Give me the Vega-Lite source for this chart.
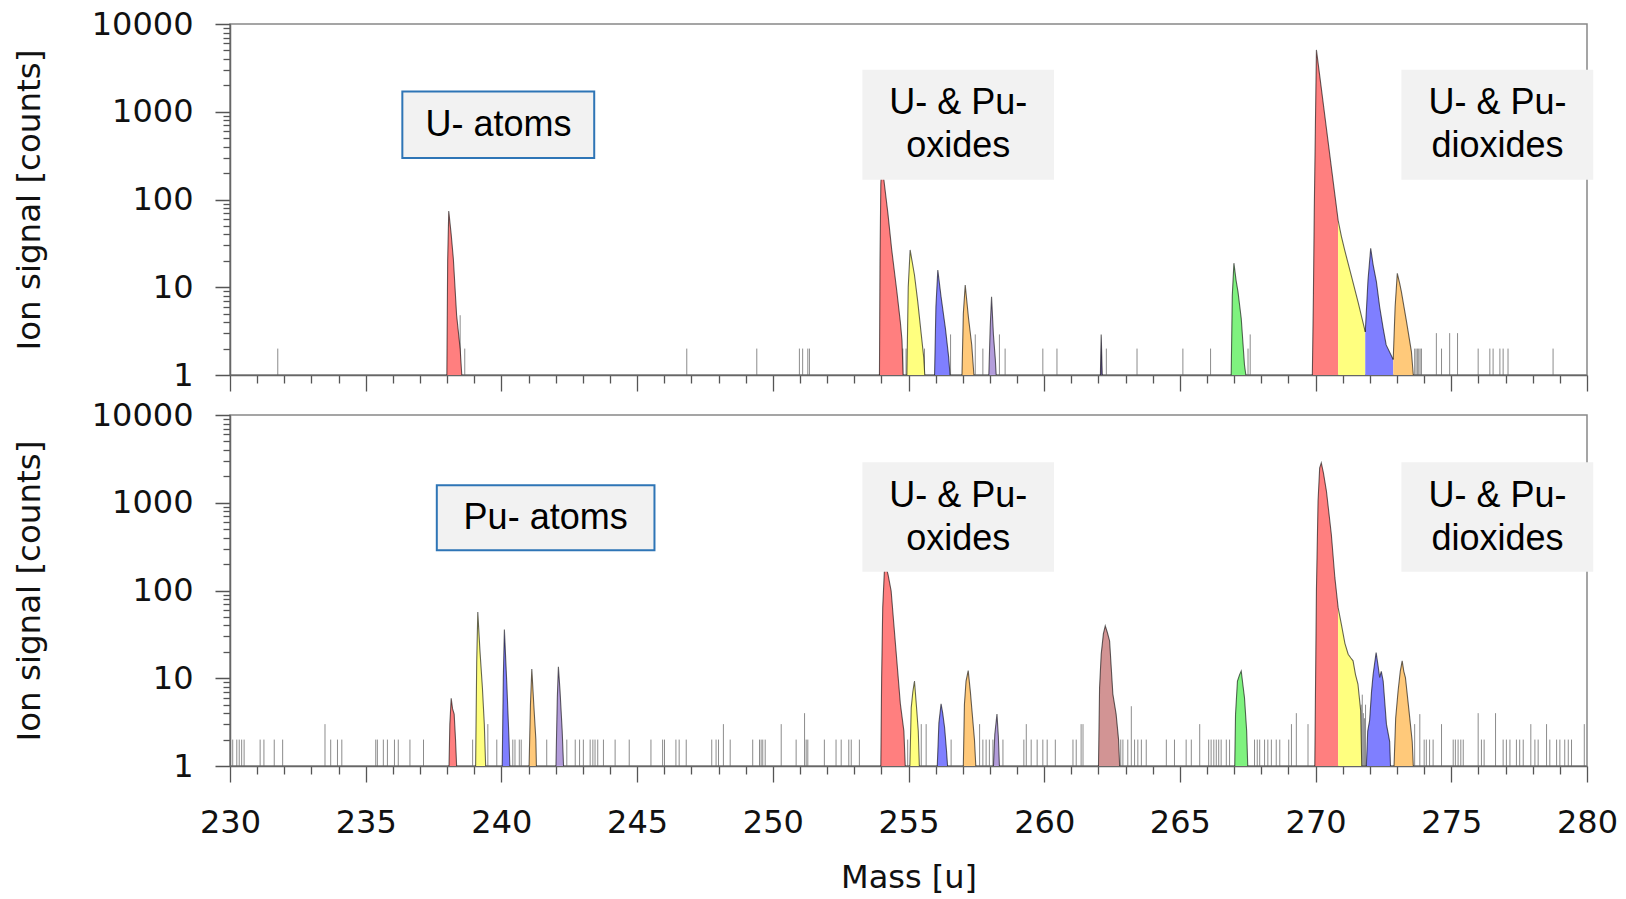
{
"$schema": "https://vega.github.io/schema/vega-lite/v6.json",
"background": "white",
"padding": {"left": 12, "top": 7, "right": 5, "bottom": 0},
"config": {
  "view": {"stroke": "#888888", "strokeWidth": 1.5},
  "axis": {"labelFont": "DejaVu Sans", "titleFont": "DejaVu Sans", "labelFontSize": 32, "titleFontSize": 32.5, "titleFontWeight": "normal", "labelColor": "#111111", "titleColor": "#111111", "tickColor": "#555555", "domainColor": "#666666", "domainWidth": 1.5, "tickWidth": 1.3, "grid": false}
},
"datasets": {
"peaks": [
{"panel":"U","peak":"u238","iso":"U-238","mass":237.99,"count":1},{"panel":"U","peak":"u238","iso":"U-238","mass":238.02,"count":20},{"panel":"U","peak":"u238","iso":"U-238","mass":238.06,"count":74},{"panel":"U","peak":"u238","iso":"U-238","mass":238.15,"count":40},{"panel":"U","peak":"u238","iso":"U-238","mass":238.23,"count":21},{"panel":"U","peak":"u238","iso":"U-238","mass":238.35,"count":4.8},{"panel":"U","peak":"u238","iso":"U-238","mass":238.48,"count":2},{"panel":"U","peak":"u238","iso":"U-238","mass":238.54,"count":1},
{"panel":"U","peak":"u254","iso":"U-238","mass":253.93,"count":1},{"panel":"U","peak":"u254","iso":"U-238","mass":253.95,"count":20},{"panel":"U","peak":"u254","iso":"U-238","mass":253.98,"count":150},{"panel":"U","peak":"u254","iso":"U-238","mass":254.03,"count":300},{"panel":"U","peak":"u254","iso":"U-238","mass":254.09,"count":170},{"panel":"U","peak":"u254","iso":"U-238","mass":254.24,"count":70},{"panel":"U","peak":"u254","iso":"U-238","mass":254.38,"count":27},{"panel":"U","peak":"u254","iso":"U-238","mass":254.57,"count":9},{"panel":"U","peak":"u254","iso":"U-238","mass":254.7,"count":4},{"panel":"U","peak":"u254","iso":"U-238","mass":254.76,"count":2.5},{"panel":"U","peak":"u254","iso":"U-238","mass":254.8,"count":1},
{"panel":"U","peak":"u255","iso":"Pu-239","mass":254.94,"count":1},{"panel":"U","peak":"u255","iso":"Pu-239","mass":254.99,"count":10},{"panel":"U","peak":"u255","iso":"Pu-239","mass":255.06,"count":26.6},{"panel":"U","peak":"u255","iso":"Pu-239","mass":255.13,"count":20},{"panel":"U","peak":"u255","iso":"Pu-239","mass":255.22,"count":13.8},{"panel":"U","peak":"u255","iso":"Pu-239","mass":255.34,"count":6.9},{"panel":"U","peak":"u255","iso":"Pu-239","mass":255.47,"count":2.9},{"panel":"U","peak":"u255","iso":"Pu-239","mass":255.56,"count":1.6},{"panel":"U","peak":"u255","iso":"Pu-239","mass":255.6,"count":1},
{"panel":"U","peak":"u256","iso":"Pu-240","mass":255.96,"count":1},{"panel":"U","peak":"u256","iso":"Pu-240","mass":256.01,"count":6},{"panel":"U","peak":"u256","iso":"Pu-240","mass":256.08,"count":15.7},{"panel":"U","peak":"u256","iso":"Pu-240","mass":256.2,"count":7.8},{"panel":"U","peak":"u256","iso":"Pu-240","mass":256.36,"count":3.4},{"panel":"U","peak":"u256","iso":"Pu-240","mass":256.48,"count":1.6},{"panel":"U","peak":"u256","iso":"Pu-240","mass":256.53,"count":1},
{"panel":"U","peak":"u257","iso":"Pu-241","mass":256.97,"count":1},{"panel":"U","peak":"u257","iso":"Pu-241","mass":257.02,"count":5},{"panel":"U","peak":"u257","iso":"Pu-241","mass":257.09,"count":10.6},{"panel":"U","peak":"u257","iso":"Pu-241","mass":257.21,"count":4.5},{"panel":"U","peak":"u257","iso":"Pu-241","mass":257.33,"count":2.2},{"panel":"U","peak":"u257","iso":"Pu-241","mass":257.41,"count":1},
{"panel":"U","peak":"u258","iso":"Pu-242","mass":257.96,"count":1},{"panel":"U","peak":"u258","iso":"Pu-242","mass":258.01,"count":3.5},{"panel":"U","peak":"u258","iso":"Pu-242","mass":258.06,"count":7.8},{"panel":"U","peak":"u258","iso":"Pu-242","mass":258.13,"count":2.85},{"panel":"U","peak":"u258","iso":"Pu-242","mass":258.2,"count":1.5},{"panel":"U","peak":"u258","iso":"Pu-242","mass":258.23,"count":1},
{"panel":"U","peak":"u262","iso":"m262a","mass":262.07,"count":1},{"panel":"U","peak":"u262","iso":"m262a","mass":262.1,"count":2.9},{"panel":"U","peak":"u262","iso":"m262a","mass":262.14,"count":1},
{"panel":"U","peak":"u267","iso":"U-235","mass":266.89,"count":1},{"panel":"U","peak":"u267","iso":"U-235","mass":266.93,"count":8},{"panel":"U","peak":"u267","iso":"U-235","mass":266.99,"count":18.8},{"panel":"U","peak":"u267","iso":"U-235","mass":267.07,"count":12},{"panel":"U","peak":"u267","iso":"U-235","mass":267.14,"count":8.9},{"panel":"U","peak":"u267","iso":"U-235","mass":267.26,"count":4.4},{"panel":"U","peak":"u267","iso":"U-235","mass":267.38,"count":1.3},{"panel":"U","peak":"u267","iso":"U-235","mass":267.43,"count":1},
{"panel":"U","peak":"u270","iso":"U-238","mass":269.88,"count":1},{"panel":"U","peak":"u270","iso":"U-238","mass":269.92,"count":8.5},{"panel":"U","peak":"u270","iso":"U-238","mass":269.95,"count":71},{"panel":"U","peak":"u270","iso":"U-238","mass":269.99,"count":600},{"panel":"U","peak":"u270","iso":"U-238","mass":270.03,"count":5070},{"panel":"U","peak":"u270","iso":"U-238","mass":270.15,"count":2600},{"panel":"U","peak":"u270","iso":"U-238","mass":270.3,"count":1120},{"panel":"U","peak":"u270","iso":"U-238","mass":270.45,"count":484},{"panel":"U","peak":"u270","iso":"U-238","mass":270.6,"count":209},{"panel":"U","peak":"u270","iso":"U-238","mass":270.72,"count":107},{"panel":"U","peak":"u270","iso":"U-238","mass":270.83,"count":58},
{"panel":"U","peak":"u271","iso":"Pu-239","mass":270.83,"count":58},{"panel":"U","peak":"u271","iso":"Pu-239","mass":270.95,"count":38},{"panel":"U","peak":"u271","iso":"Pu-239","mass":271.07,"count":26.6},{"panel":"U","peak":"u271","iso":"Pu-239","mass":271.32,"count":13.4},{"panel":"U","peak":"u271","iso":"Pu-239","mass":271.57,"count":6.7},{"panel":"U","peak":"u271","iso":"Pu-239","mass":271.83,"count":3.1},
{"panel":"U","peak":"u272","iso":"Pu-240","mass":271.83,"count":3.1},{"panel":"U","peak":"u272","iso":"Pu-240","mass":271.93,"count":12},{"panel":"U","peak":"u272","iso":"Pu-240","mass":272.03,"count":27.8},{"panel":"U","peak":"u272","iso":"Pu-240","mass":272.12,"count":18},{"panel":"U","peak":"u272","iso":"Pu-240","mass":272.24,"count":11.6},{"panel":"U","peak":"u272","iso":"Pu-240","mass":272.36,"count":6},{"panel":"U","peak":"u272","iso":"Pu-240","mass":272.49,"count":3.4},{"panel":"U","peak":"u272","iso":"Pu-240","mass":272.6,"count":2.2},{"panel":"U","peak":"u272","iso":"Pu-240","mass":272.86,"count":1.5},
{"panel":"U","peak":"u273","iso":"Pu-241","mass":272.86,"count":1.5},{"panel":"U","peak":"u273","iso":"Pu-241","mass":272.93,"count":6},{"panel":"U","peak":"u273","iso":"Pu-241","mass":273.01,"count":14.4},{"panel":"U","peak":"u273","iso":"Pu-241","mass":273.1,"count":11},{"panel":"U","peak":"u273","iso":"Pu-241","mass":273.16,"count":8.9},{"panel":"U","peak":"u273","iso":"Pu-241","mass":273.35,"count":4.06},{"panel":"U","peak":"u273","iso":"Pu-241","mass":273.53,"count":1.85},{"panel":"U","peak":"u273","iso":"Pu-241","mass":273.6,"count":1},
{"panel":"Pu","peak":"p238","iso":"U-238","mass":238.07,"count":1},{"panel":"Pu","peak":"p238","iso":"U-238","mass":238.1,"count":3},{"panel":"Pu","peak":"p238","iso":"U-238","mass":238.15,"count":5.9},{"panel":"Pu","peak":"p238","iso":"U-238","mass":238.2,"count":4.5},{"panel":"Pu","peak":"p238","iso":"U-238","mass":238.26,"count":3.9},{"panel":"Pu","peak":"p238","iso":"U-238","mass":238.31,"count":2},{"panel":"Pu","peak":"p238","iso":"U-238","mass":238.35,"count":1},
{"panel":"Pu","peak":"p239","iso":"Pu-239","mass":239.05,"count":1},{"panel":"Pu","peak":"p239","iso":"Pu-239","mass":239.09,"count":15},{"panel":"Pu","peak":"p239","iso":"Pu-239","mass":239.13,"count":57},{"panel":"Pu","peak":"p239","iso":"Pu-239","mass":239.21,"count":20.5},{"panel":"Pu","peak":"p239","iso":"Pu-239","mass":239.3,"count":7.8},{"panel":"Pu","peak":"p239","iso":"Pu-239","mass":239.37,"count":3},{"panel":"Pu","peak":"p239","iso":"Pu-239","mass":239.42,"count":1},
{"panel":"Pu","peak":"p240","iso":"Pu-240","mass":240.03,"count":1},{"panel":"Pu","peak":"p240","iso":"Pu-240","mass":240.07,"count":10},{"panel":"Pu","peak":"p240","iso":"Pu-240","mass":240.11,"count":36},{"panel":"Pu","peak":"p240","iso":"Pu-240","mass":240.2,"count":8.6},{"panel":"Pu","peak":"p240","iso":"Pu-240","mass":240.28,"count":2},{"panel":"Pu","peak":"p240","iso":"Pu-240","mass":240.31,"count":1},
{"panel":"Pu","peak":"p241","iso":"Pu-241","mass":241.02,"count":1},{"panel":"Pu","peak":"p241","iso":"Pu-241","mass":241.07,"count":5},{"panel":"Pu","peak":"p241","iso":"Pu-241","mass":241.12,"count":12.7},{"panel":"Pu","peak":"p241","iso":"Pu-241","mass":241.2,"count":4.6},{"panel":"Pu","peak":"p241","iso":"Pu-241","mass":241.27,"count":2},{"panel":"Pu","peak":"p241","iso":"Pu-241","mass":241.29,"count":1},
{"panel":"Pu","peak":"p242","iso":"Pu-242","mass":242.01,"count":1},{"panel":"Pu","peak":"p242","iso":"Pu-242","mass":242.06,"count":6},{"panel":"Pu","peak":"p242","iso":"Pu-242","mass":242.1,"count":13.5},{"panel":"Pu","peak":"p242","iso":"Pu-242","mass":242.16,"count":7.2},{"panel":"Pu","peak":"p242","iso":"Pu-242","mass":242.24,"count":2.5},{"panel":"Pu","peak":"p242","iso":"Pu-242","mass":242.29,"count":1},
{"panel":"Pu","peak":"p254","iso":"U-238","mass":253.98,"count":1},{"panel":"Pu","peak":"p254","iso":"U-238","mass":254.01,"count":10},{"panel":"Pu","peak":"p254","iso":"U-238","mass":254.05,"count":64},{"panel":"Pu","peak":"p254","iso":"U-238","mass":254.11,"count":164},{"panel":"Pu","peak":"p254","iso":"U-238","mass":254.17,"count":190},{"panel":"Pu","peak":"p254","iso":"U-238","mass":254.25,"count":150},{"panel":"Pu","peak":"p254","iso":"U-238","mass":254.36,"count":99},{"panel":"Pu","peak":"p254","iso":"U-238","mass":254.45,"count":45},{"panel":"Pu","peak":"p254","iso":"U-238","mass":254.54,"count":20.5},{"panel":"Pu","peak":"p254","iso":"U-238","mass":254.7,"count":5.1},{"panel":"Pu","peak":"p254","iso":"U-238","mass":254.83,"count":2.5},{"panel":"Pu","peak":"p254","iso":"U-238","mass":254.88,"count":1},
{"panel":"Pu","peak":"p255","iso":"Pu-239","mass":255.05,"count":1},{"panel":"Pu","peak":"p255","iso":"Pu-239","mass":255.1,"count":4.6},{"panel":"Pu","peak":"p255","iso":"Pu-239","mass":255.16,"count":7},{"panel":"Pu","peak":"p255","iso":"Pu-239","mass":255.22,"count":9.3},{"panel":"Pu","peak":"p255","iso":"Pu-239","mass":255.3,"count":4.5},{"panel":"Pu","peak":"p255","iso":"Pu-239","mass":255.36,"count":2.5},{"panel":"Pu","peak":"p255","iso":"Pu-239","mass":255.4,"count":1},
{"panel":"Pu","peak":"p256","iso":"Pu-240","mass":256.06,"count":1},{"panel":"Pu","peak":"p256","iso":"Pu-240","mass":256.12,"count":3.1},{"panel":"Pu","peak":"p256","iso":"Pu-240","mass":256.2,"count":5.1},{"panel":"Pu","peak":"p256","iso":"Pu-240","mass":256.26,"count":4},{"panel":"Pu","peak":"p256","iso":"Pu-240","mass":256.33,"count":2.75},{"panel":"Pu","peak":"p256","iso":"Pu-240","mass":256.4,"count":1.5},{"panel":"Pu","peak":"p256","iso":"Pu-240","mass":256.44,"count":1},
{"panel":"Pu","peak":"p257","iso":"Pu-241","mass":257.02,"count":1},{"panel":"Pu","peak":"p257","iso":"Pu-241","mass":257.06,"count":5},{"panel":"Pu","peak":"p257","iso":"Pu-241","mass":257.12,"count":9.3},{"panel":"Pu","peak":"p257","iso":"Pu-241","mass":257.2,"count":12.2},{"panel":"Pu","peak":"p257","iso":"Pu-241","mass":257.28,"count":7},{"panel":"Pu","peak":"p257","iso":"Pu-241","mass":257.33,"count":4.6},{"panel":"Pu","peak":"p257","iso":"Pu-241","mass":257.43,"count":2},{"panel":"Pu","peak":"p257","iso":"Pu-241","mass":257.48,"count":1},
{"panel":"Pu","peak":"p258","iso":"Pu-242","mass":258.13,"count":1},{"panel":"Pu","peak":"p258","iso":"Pu-242","mass":258.18,"count":2.3},{"panel":"Pu","peak":"p258","iso":"Pu-242","mass":258.26,"count":3.9},{"panel":"Pu","peak":"p258","iso":"Pu-242","mass":258.31,"count":2.2},{"panel":"Pu","peak":"p258","iso":"Pu-242","mass":258.35,"count":1},
{"panel":"Pu","peak":"p262","iso":"m262b","mass":262.0,"count":1},{"panel":"Pu","peak":"p262","iso":"m262b","mass":262.04,"count":7.8},{"panel":"Pu","peak":"p262","iso":"m262b","mass":262.1,"count":18.8},{"panel":"Pu","peak":"p262","iso":"m262b","mass":262.18,"count":32},{"panel":"Pu","peak":"p262","iso":"m262b","mass":262.25,"count":39.5},{"panel":"Pu","peak":"p262","iso":"m262b","mass":262.33,"count":33},{"panel":"Pu","peak":"p262","iso":"m262b","mass":262.41,"count":26.6},{"panel":"Pu","peak":"p262","iso":"m262b","mass":262.53,"count":6.6},{"panel":"Pu","peak":"p262","iso":"m262b","mass":262.65,"count":3.9},{"panel":"Pu","peak":"p262","iso":"m262b","mass":262.74,"count":2},{"panel":"Pu","peak":"p262","iso":"m262b","mass":262.78,"count":1},
{"panel":"Pu","peak":"p267","iso":"U-235","mass":267.02,"count":1},{"panel":"Pu","peak":"p267","iso":"U-235","mass":267.05,"count":3.9},{"panel":"Pu","peak":"p267","iso":"U-235","mass":267.12,"count":9.3},{"panel":"Pu","peak":"p267","iso":"U-235","mass":267.2,"count":11},{"panel":"Pu","peak":"p267","iso":"U-235","mass":267.26,"count":12.1},{"panel":"Pu","peak":"p267","iso":"U-235","mass":267.33,"count":8},{"panel":"Pu","peak":"p267","iso":"U-235","mass":267.38,"count":6},{"panel":"Pu","peak":"p267","iso":"U-235","mass":267.46,"count":2.5},{"panel":"Pu","peak":"p267","iso":"U-235","mass":267.5,"count":1},
{"panel":"Pu","peak":"p270","iso":"U-238","mass":269.97,"count":1},{"panel":"Pu","peak":"p270","iso":"U-238","mass":270.0,"count":10},{"panel":"Pu","peak":"p270","iso":"U-238","mass":270.03,"count":98},{"panel":"Pu","peak":"p270","iso":"U-238","mass":270.09,"count":1042},{"panel":"Pu","peak":"p270","iso":"U-238","mass":270.15,"count":2495},{"panel":"Pu","peak":"p270","iso":"U-238","mass":270.21,"count":2846},{"panel":"Pu","peak":"p270","iso":"U-238","mass":270.29,"count":2180},{"panel":"Pu","peak":"p270","iso":"U-238","mass":270.4,"count":1350},{"panel":"Pu","peak":"p270","iso":"U-238","mass":270.58,"count":435},{"panel":"Pu","peak":"p270","iso":"U-238","mass":270.71,"count":140},{"panel":"Pu","peak":"p270","iso":"U-238","mass":270.83,"count":64},
{"panel":"Pu","peak":"p271","iso":"Pu-239","mass":270.83,"count":64},{"panel":"Pu","peak":"p271","iso":"Pu-239","mass":270.95,"count":41},{"panel":"Pu","peak":"p271","iso":"Pu-239","mass":271.08,"count":25},{"panel":"Pu","peak":"p271","iso":"Pu-239","mass":271.2,"count":18.8},{"panel":"Pu","peak":"p271","iso":"Pu-239","mass":271.3,"count":17},{"panel":"Pu","peak":"p271","iso":"Pu-239","mass":271.38,"count":15.8},{"panel":"Pu","peak":"p271","iso":"Pu-239","mass":271.47,"count":11},{"panel":"Pu","peak":"p271","iso":"Pu-239","mass":271.56,"count":8.6},{"panel":"Pu","peak":"p271","iso":"Pu-239","mass":271.66,"count":4.3},{"panel":"Pu","peak":"p271","iso":"Pu-239","mass":271.7,"count":1},
{"panel":"Pu","peak":"p272","iso":"Pu-240","mass":271.87,"count":1},{"panel":"Pu","peak":"p272","iso":"Pu-240","mass":271.92,"count":2.5},{"panel":"Pu","peak":"p272","iso":"Pu-240","mass":271.99,"count":3.3},{"panel":"Pu","peak":"p272","iso":"Pu-240","mass":272.06,"count":7},{"panel":"Pu","peak":"p272","iso":"Pu-240","mass":272.12,"count":11.1},{"panel":"Pu","peak":"p272","iso":"Pu-240","mass":272.23,"count":19.6},{"panel":"Pu","peak":"p272","iso":"Pu-240","mass":272.3,"count":14},{"panel":"Pu","peak":"p272","iso":"Pu-240","mass":272.36,"count":10.2},{"panel":"Pu","peak":"p272","iso":"Pu-240","mass":272.42,"count":12},{"panel":"Pu","peak":"p272","iso":"Pu-240","mass":272.49,"count":9.3},{"panel":"Pu","peak":"p272","iso":"Pu-240","mass":272.61,"count":3.0},{"panel":"Pu","peak":"p272","iso":"Pu-240","mass":272.73,"count":1.9},{"panel":"Pu","peak":"p272","iso":"Pu-240","mass":272.76,"count":1},
{"panel":"Pu","peak":"p273","iso":"Pu-241","mass":272.89,"count":1},{"panel":"Pu","peak":"p273","iso":"Pu-241","mass":272.95,"count":3.5},{"panel":"Pu","peak":"p273","iso":"Pu-241","mass":273.04,"count":7.2},{"panel":"Pu","peak":"p273","iso":"Pu-241","mass":273.12,"count":12},{"panel":"Pu","peak":"p273","iso":"Pu-241","mass":273.19,"count":15.8},{"panel":"Pu","peak":"p273","iso":"Pu-241","mass":273.25,"count":12},{"panel":"Pu","peak":"p273","iso":"Pu-241","mass":273.31,"count":10.2},{"panel":"Pu","peak":"p273","iso":"Pu-241","mass":273.43,"count":4.6},{"panel":"Pu","peak":"p273","iso":"Pu-241","mass":273.56,"count":1.9},{"panel":"Pu","peak":"p273","iso":"Pu-241","mass":273.6,"count":1}
],
"noise": [
{"panel":"U","mass":231.76,"count":2},{"panel":"U","mass":238.48,"count":4.8},{"panel":"U","mass":238.65,"count":2},{"panel":"U","mass":246.83,"count":2},{"panel":"U","mass":249.41,"count":2},{"panel":"U","mass":250.98,"count":2},{"panel":"U","mass":251.1,"count":2},{"panel":"U","mass":251.29,"count":2},{"panel":"U","mass":251.35,"count":2},{"panel":"U","mass":254.79,"count":2},{"panel":"U","mass":254.91,"count":2},{"panel":"U","mass":255.59,"count":2},{"panel":"U","mass":256.55,"count":2.9},{"panel":"U","mass":257.46,"count":2.9},{"panel":"U","mass":257.74,"count":2},{"panel":"U","mass":258.35,"count":2.9},{"panel":"U","mass":258.56,"count":2},{"panel":"U","mass":259.95,"count":2},{"panel":"U","mass":260.47,"count":2},{"panel":"U","mass":262.29,"count":2},{"panel":"U","mass":263.42,"count":2},{"panel":"U","mass":265.11,"count":2},{"panel":"U","mass":266.13,"count":2},{"panel":"U","mass":267.51,"count":2},{"panel":"U","mass":267.59,"count":2.9},{"panel":"U","mass":273.65,"count":2},{"panel":"U","mass":273.7,"count":2},{"panel":"U","mass":273.75,"count":2},{"panel":"U","mass":273.8,"count":2},{"panel":"U","mass":273.85,"count":2},{"panel":"U","mass":273.9,"count":2},{"panel":"U","mass":274.45,"count":3},{"panel":"U","mass":274.64,"count":2},{"panel":"U","mass":274.94,"count":3},{"panel":"U","mass":275.23,"count":3},{"panel":"U","mass":275.99,"count":2},{"panel":"U","mass":276.42,"count":2},{"panel":"U","mass":276.54,"count":2},{"panel":"U","mass":276.79,"count":2},{"panel":"U","mass":276.91,"count":2},{"panel":"U","mass":277.09,"count":2},{"panel":"U","mass":278.75,"count":2},
{"panel":"Pu","mass":230.1,"count":2},{"panel":"Pu","mass":230.25,"count":2},{"panel":"Pu","mass":230.34,"count":2},{"panel":"Pu","mass":230.43,"count":2},{"panel":"Pu","mass":230.52,"count":2},{"panel":"Pu","mass":231.11,"count":2},{"panel":"Pu","mass":231.25,"count":2},{"panel":"Pu","mass":231.63,"count":2},{"panel":"Pu","mass":231.94,"count":2},{"panel":"Pu","mass":233.5,"count":3},{"panel":"Pu","mass":233.71,"count":2},{"panel":"Pu","mass":233.96,"count":2},{"panel":"Pu","mass":234.12,"count":2},{"panel":"Pu","mass":235.37,"count":2},{"panel":"Pu","mass":235.43,"count":2},{"panel":"Pu","mass":235.65,"count":2},{"panel":"Pu","mass":235.8,"count":2},{"panel":"Pu","mass":236.06,"count":2},{"panel":"Pu","mass":236.2,"count":2},{"panel":"Pu","mass":236.63,"count":2},{"panel":"Pu","mass":237.13,"count":2},{"panel":"Pu","mass":238.94,"count":2},{"panel":"Pu","mass":239.5,"count":3},{"panel":"Pu","mass":239.83,"count":2},{"panel":"Pu","mass":240.42,"count":2},{"panel":"Pu","mass":240.5,"count":2},{"panel":"Pu","mass":240.66,"count":2},{"panel":"Pu","mass":240.73,"count":2},{"panel":"Pu","mass":241.67,"count":2},{"panel":"Pu","mass":242.41,"count":2},{"panel":"Pu","mass":242.72,"count":2},{"panel":"Pu","mass":242.88,"count":2},{"panel":"Pu","mass":243.02,"count":2},{"panel":"Pu","mass":243.27,"count":2},{"panel":"Pu","mass":243.37,"count":2},{"panel":"Pu","mass":243.45,"count":2},{"panel":"Pu","mass":243.55,"count":2},{"panel":"Pu","mass":243.76,"count":2},{"panel":"Pu","mass":244.19,"count":2},{"panel":"Pu","mass":244.71,"count":2},{"panel":"Pu","mass":245.51,"count":2},{"panel":"Pu","mass":245.94,"count":2},{"panel":"Pu","mass":246.01,"count":2},{"panel":"Pu","mass":246.43,"count":2},{"panel":"Pu","mass":246.55,"count":2},{"panel":"Pu","mass":246.81,"count":2},{"panel":"Pu","mass":247.75,"count":2},{"panel":"Pu","mass":247.91,"count":2},{"panel":"Pu","mass":248.0,"count":2},{"panel":"Pu","mass":248.18,"count":3},{"panel":"Pu","mass":248.43,"count":2},
{"panel":"Pu","mass":249.26,"count":2},{"panel":"Pu","mass":249.51,"count":2},{"panel":"Pu","mass":249.57,"count":2},{"panel":"Pu","mass":249.63,"count":2},{"panel":"Pu","mass":249.72,"count":2},{"panel":"Pu","mass":250.31,"count":3},{"panel":"Pu","mass":250.86,"count":2},{"panel":"Pu","mass":251.17,"count":4},{"panel":"Pu","mass":251.23,"count":2},{"panel":"Pu","mass":251.29,"count":2},{"panel":"Pu","mass":251.9,"count":2},{"panel":"Pu","mass":252.33,"count":2},{"panel":"Pu","mass":252.52,"count":2},{"panel":"Pu","mass":252.8,"count":2},{"panel":"Pu","mass":252.89,"count":2},{"panel":"Pu","mass":253.19,"count":2},{"panel":"Pu","mass":254.97,"count":2},{"panel":"Pu","mass":255.47,"count":3},{"panel":"Pu","mass":255.65,"count":3},{"panel":"Pu","mass":256.57,"count":2},{"panel":"Pu","mass":257.62,"count":3},{"panel":"Pu","mass":257.74,"count":2},{"panel":"Pu","mass":257.86,"count":2},{"panel":"Pu","mass":257.98,"count":2},{"panel":"Pu","mass":258.11,"count":2},{"panel":"Pu","mass":258.48,"count":2},{"panel":"Pu","mass":259.25,"count":2},{"panel":"Pu","mass":259.34,"count":3},{"panel":"Pu","mass":259.52,"count":2},{"panel":"Pu","mass":259.74,"count":2},{"panel":"Pu","mass":259.95,"count":2},{"panel":"Pu","mass":260.11,"count":2},{"panel":"Pu","mass":260.41,"count":2},{"panel":"Pu","mass":261.06,"count":2},{"panel":"Pu","mass":261.18,"count":2},{"panel":"Pu","mass":261.36,"count":3},{"panel":"Pu","mass":261.43,"count":3},{"panel":"Pu","mass":262.82,"count":2},{"panel":"Pu","mass":262.9,"count":2},{"panel":"Pu","mass":263.08,"count":2},{"panel":"Pu","mass":263.21,"count":4.8},{"panel":"Pu","mass":263.33,"count":2},{"panel":"Pu","mass":263.45,"count":2},{"panel":"Pu","mass":263.58,"count":2},{"panel":"Pu","mass":263.76,"count":2},{"panel":"Pu","mass":264.5,"count":2},{"panel":"Pu","mass":264.8,"count":2},{"panel":"Pu","mass":265.23,"count":2},{"panel":"Pu","mass":265.42,"count":2},{"panel":"Pu","mass":265.73,"count":3},{"panel":"Pu","mass":266.06,"count":2},{"panel":"Pu","mass":266.15,"count":2},{"panel":"Pu","mass":266.25,"count":2},{"panel":"Pu","mass":266.34,"count":2},{"panel":"Pu","mass":266.43,"count":2},{"panel":"Pu","mass":266.52,"count":2},{"panel":"Pu","mass":266.71,"count":2},{"panel":"Pu","mass":266.83,"count":2},{"panel":"Pu","mass":267.75,"count":2},{"panel":"Pu","mass":267.85,"count":2},{"panel":"Pu","mass":267.94,"count":2},{"panel":"Pu","mass":268.12,"count":2},{"panel":"Pu","mass":268.24,"count":2},{"panel":"Pu","mass":268.37,"count":2},{"panel":"Pu","mass":268.55,"count":2},{"panel":"Pu","mass":268.68,"count":2},{"panel":"Pu","mass":269.01,"count":2},{"panel":"Pu","mass":269.11,"count":3},{"panel":"Pu","mass":269.29,"count":4},{"panel":"Pu","mass":269.72,"count":3},{"panel":"Pu","mass":271.68,"count":5},{"panel":"Pu","mass":271.72,"count":6.5},{"panel":"Pu","mass":271.76,"count":4},{"panel":"Pu","mass":271.8,"count":3.5},{"panel":"Pu","mass":271.84,"count":5},{"panel":"Pu","mass":273.65,"count":3},{"panel":"Pu","mass":273.84,"count":3.9},{"panel":"Pu","mass":274.0,"count":2},{"panel":"Pu","mass":274.08,"count":2},{"panel":"Pu","mass":274.2,"count":2},{"panel":"Pu","mass":274.33,"count":2},{"panel":"Pu","mass":274.64,"count":3},{"panel":"Pu","mass":275.07,"count":2},{"panel":"Pu","mass":275.15,"count":2},{"panel":"Pu","mass":275.25,"count":2},{"panel":"Pu","mass":275.35,"count":2},{"panel":"Pu","mass":275.44,"count":2},{"panel":"Pu","mass":275.99,"count":4},{"panel":"Pu","mass":276.11,"count":2},{"panel":"Pu","mass":276.21,"count":2},{"panel":"Pu","mass":276.63,"count":4},{"panel":"Pu","mass":276.91,"count":2},{"panel":"Pu","mass":277.03,"count":2},{"panel":"Pu","mass":277.16,"count":2},{"panel":"Pu","mass":277.4,"count":2},{"panel":"Pu","mass":277.52,"count":2},{"panel":"Pu","mass":277.65,"count":2},{"panel":"Pu","mass":277.93,"count":3},{"panel":"Pu","mass":278.08,"count":2},{"panel":"Pu","mass":278.2,"count":2},{"panel":"Pu","mass":278.51,"count":3},{"panel":"Pu","mass":278.63,"count":2},{"panel":"Pu","mass":278.88,"count":2},{"panel":"Pu","mass":279.0,"count":2},{"panel":"Pu","mass":279.18,"count":2},{"panel":"Pu","mass":279.31,"count":2},{"panel":"Pu","mass":279.43,"count":2},{"panel":"Pu","mass":279.9,"count":3}
],
"boxes": [
{"panel":"U","kind":"atoms","mass":236.35,"mass2":243.42,"count":297,"count2":1700},
{"panel":"U","kind":"oxides","mass":253.3,"mass2":260.36,"count":168,"count2":3020},
{"panel":"U","kind":"dioxides","mass":273.16,"mass2":280.23,"count":168,"count2":3020},
{"panel":"Pu","kind":"atoms","mass":237.62,"mass2":245.64,"count":287,"count2":1585},
{"panel":"Pu","kind":"oxides","mass":253.3,"mass2":260.36,"count":164,"count2":2897},
{"panel":"Pu","kind":"dioxides","mass":273.16,"mass2":280.23,"count":164,"count2":2897}
],
"labels": [
{"panel":"U","kind":"atoms","text":"U- atoms","mass":239.89,"count":711},
{"panel":"U","kind":"oxides","text":"U- & Pu-\noxides","mass":256.83,"count":713},
{"panel":"U","kind":"dioxides","text":"U- & Pu-\ndioxides","mass":276.7,"count":713},
{"panel":"Pu","kind":"atoms","text":"Pu- atoms","mass":241.63,"count":673},
{"panel":"Pu","kind":"oxides","text":"U- & Pu-\noxides","mass":256.83,"count":688},
{"panel":"Pu","kind":"dioxides","text":"U- & Pu-\ndioxides","mass":276.7,"count":688}
]
},
"spacing": 40,
"bounds": "flush",
"vconcat": [
{
"width": 1357, "height": 351,
"encoding": {
  "x": {"field": "mass", "type": "quantitative", "scale": {"domain": [230, 280], "nice": false, "zero": false},
        "axis": {"values": [230,231,232,233,234,235,236,237,238,239,240,241,242,243,244,245,246,247,248,249,250,251,252,253,254,255,256,257,258,259,260,261,262,263,264,265,266,267,268,269,270,271,272,273,274,275,276,277,278,279,280],
                 "tickSize": 16, "labels": false, "title": null,
                 "tickDash": {"condition": {"test": "datum.value % 5 === 0", "value": [1, 0]}, "value": [8, 40]}}},
  "y": {"field": "count", "type": "quantitative", "scale": {"type": "log", "domain": [1, 10000], "nice": false},
        "axis": {"values": [1,2,3,4,5,6,7,8,9,10,20,30,40,50,60,70,80,90,100,200,300,400,500,600,700,800,900,1000,2000,3000,4000,5000,6000,7000,8000,9000,10000],
                 "tickSize": 15,
                 "tickDash": {"condition": {"test": "indexof([1,10,100,1000,10000], datum.value) >= 0", "value": [1, 0]}, "value": [7, 40]},
                 "labelExpr": "indexof([1,10,100,1000,10000], datum.value) >= 0 ? format(datum.value, 'd') : ''",
                 "labelOverlap": false, "labelPadding": 22, "title": "Ion signal [counts]", "titlePadding": 45}}
},
"layer": [
{"data": {"name": "noise"}, "transform": [{"filter": "datum.panel === 'U'"}],
 "mark": {"type": "rule", "color": "#666666", "strokeWidth": 1, "opacity": 0.75},
 "encoding": {"y2": {"datum": 1}}},
{"data": {"name": "peaks"}, "transform": [{"filter": "datum.panel === 'U'"}],
 "mark": {"type": "area", "opacity": 1},
 "encoding": {
  "y2": {"datum": 1},
  "color": {"field": "iso", "type": "nominal", "legend": null,
            "scale": {"domain": ["U-238","Pu-239","Pu-240","Pu-241","Pu-242","U-235","m262a","m262b"],
                      "range": ["#ff7f7f","#ffff7f","#7f7fff","#ffc97a","#b39ddb","#7ff27f","#6a5a9a","#d29494"]}},
  "detail": {"field": "peak"}}},
{"data": {"name": "peaks"}, "transform": [{"filter": "datum.panel === 'U'"}],
 "mark": {"type": "line", "color": "#000000", "strokeWidth": 1.1, "opacity": 0.6},
 "encoding": {"detail": {"field": "peak"}}},
{"data": {"name": "boxes"}, "transform": [{"filter": "datum.panel === 'U' && datum.kind !== 'atoms'"}],
 "mark": {"type": "rect", "fill": "#f2f2f2"},
 "encoding": {"x2": {"field": "mass2"}, "y2": {"field": "count2"}}},
{"data": {"name": "boxes"}, "transform": [{"filter": "datum.panel === 'U' && datum.kind === 'atoms'"}],
 "mark": {"type": "rect", "fill": "#f2f2f2", "stroke": "#2e75b6", "strokeWidth": 2},
 "encoding": {"x2": {"field": "mass2"}, "y2": {"field": "count2"}}},
{"data": {"name": "labels"}, "transform": [{"filter": "datum.panel === 'U' && datum.kind === 'atoms'"}],
 "mark": {"type": "text", "font": "Liberation Sans", "fontSize": 36, "align": "center", "baseline": "middle", "color": "#000000"},
 "encoding": {"text": {"field": "text"}}},
{"data": {"name": "labels"}, "transform": [{"filter": "datum.panel === 'U' && datum.kind !== 'atoms'"}],
 "mark": {"type": "text", "font": "Liberation Sans", "fontSize": 36, "lineHeight": 43, "lineBreak": "\n", "align": "center", "baseline": "middle", "dy": -21.5, "color": "#000000"},
 "encoding": {"text": {"field": "text"}}}
]
},
{
"width": 1357, "height": 351,
"encoding": {
  "x": {"field": "mass", "type": "quantitative", "scale": {"domain": [230, 280], "nice": false, "zero": false},
        "axis": {"values": [230,231,232,233,234,235,236,237,238,239,240,241,242,243,244,245,246,247,248,249,250,251,252,253,254,255,256,257,258,259,260,261,262,263,264,265,266,267,268,269,270,271,272,273,274,275,276,277,278,279,280],
                 "tickSize": 16,
                 "tickDash": {"condition": {"test": "datum.value % 5 === 0", "value": [1, 0]}, "value": [8, 40]},
                 "labelExpr": "datum.value % 5 === 0 ? datum.label : ''", "labelOverlap": false, "labelFlush": false,
                 "labelPadding": 25, "title": "Mass [u]", "titleFontSize": 32, "titlePadding": 24}},
  "y": {"field": "count", "type": "quantitative", "scale": {"type": "log", "domain": [1, 10000], "nice": false},
        "axis": {"values": [1,2,3,4,5,6,7,8,9,10,20,30,40,50,60,70,80,90,100,200,300,400,500,600,700,800,900,1000,2000,3000,4000,5000,6000,7000,8000,9000,10000],
                 "tickSize": 15,
                 "tickDash": {"condition": {"test": "indexof([1,10,100,1000,10000], datum.value) >= 0", "value": [1, 0]}, "value": [7, 40]},
                 "labelExpr": "indexof([1,10,100,1000,10000], datum.value) >= 0 ? format(datum.value, 'd') : ''",
                 "labelOverlap": false, "labelPadding": 22, "title": "Ion signal [counts]", "titlePadding": 45}}
},
"layer": [
{"data": {"name": "noise"}, "transform": [{"filter": "datum.panel === 'Pu'"}],
 "mark": {"type": "rule", "color": "#666666", "strokeWidth": 1, "opacity": 0.75},
 "encoding": {"y2": {"datum": 1}}},
{"data": {"name": "peaks"}, "transform": [{"filter": "datum.panel === 'Pu'"}],
 "mark": {"type": "area", "opacity": 1},
 "encoding": {
  "y2": {"datum": 1},
  "color": {"field": "iso", "type": "nominal", "legend": null,
            "scale": {"domain": ["U-238","Pu-239","Pu-240","Pu-241","Pu-242","U-235","m262a","m262b"],
                      "range": ["#ff7f7f","#ffff7f","#7f7fff","#ffc97a","#b39ddb","#7ff27f","#6a5a9a","#d29494"]}},
  "detail": {"field": "peak"}}},
{"data": {"name": "peaks"}, "transform": [{"filter": "datum.panel === 'Pu'"}],
 "mark": {"type": "line", "color": "#000000", "strokeWidth": 1.1, "opacity": 0.6},
 "encoding": {"detail": {"field": "peak"}}},
{"data": {"name": "boxes"}, "transform": [{"filter": "datum.panel === 'Pu' && datum.kind !== 'atoms'"}],
 "mark": {"type": "rect", "fill": "#f2f2f2"},
 "encoding": {"x2": {"field": "mass2"}, "y2": {"field": "count2"}}},
{"data": {"name": "boxes"}, "transform": [{"filter": "datum.panel === 'Pu' && datum.kind === 'atoms'"}],
 "mark": {"type": "rect", "fill": "#f2f2f2", "stroke": "#2e75b6", "strokeWidth": 2},
 "encoding": {"x2": {"field": "mass2"}, "y2": {"field": "count2"}}},
{"data": {"name": "labels"}, "transform": [{"filter": "datum.panel === 'Pu' && datum.kind === 'atoms'"}],
 "mark": {"type": "text", "font": "Liberation Sans", "fontSize": 36, "align": "center", "baseline": "middle", "color": "#000000"},
 "encoding": {"text": {"field": "text"}}},
{"data": {"name": "labels"}, "transform": [{"filter": "datum.panel === 'Pu' && datum.kind !== 'atoms'"}],
 "mark": {"type": "text", "font": "Liberation Sans", "fontSize": 36, "lineHeight": 43, "lineBreak": "\n", "align": "center", "baseline": "middle", "dy": -21.5, "color": "#000000"},
 "encoding": {"text": {"field": "text"}}}
]
}
]
}
